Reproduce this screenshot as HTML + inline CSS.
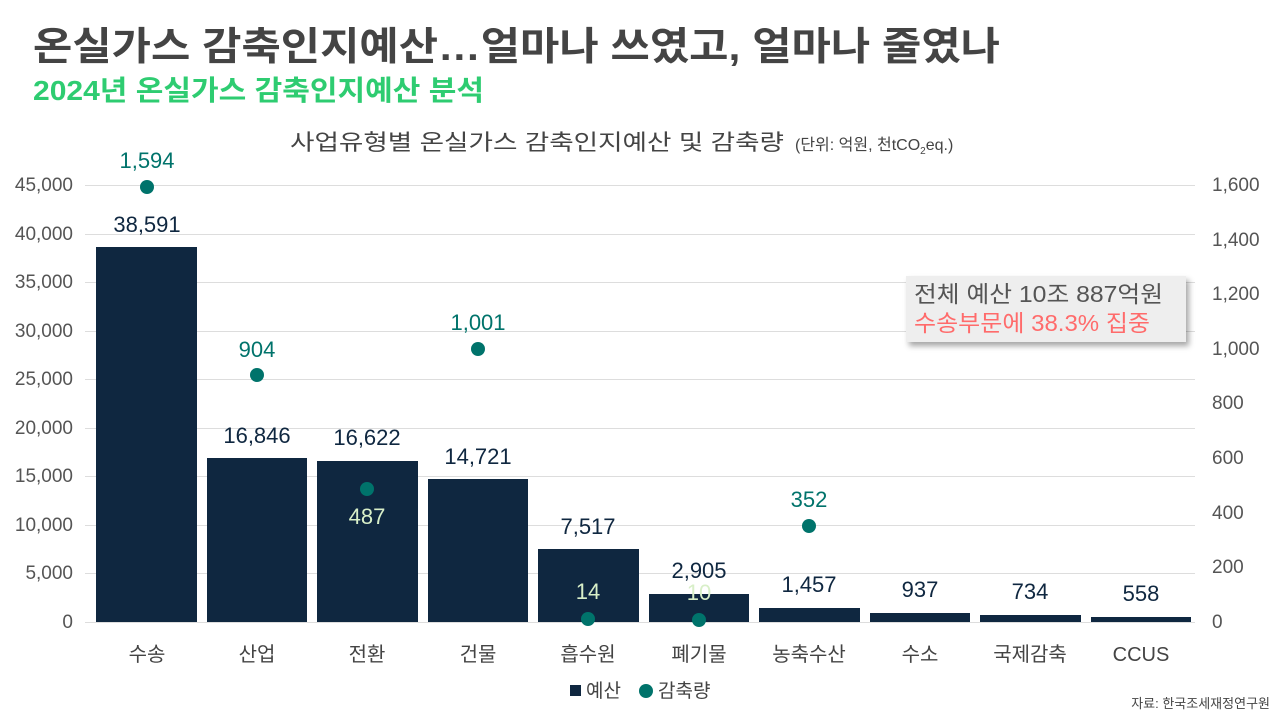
<!DOCTYPE html>
<html><head><meta charset="utf-8"><style>
body{margin:0;width:1280px;height:720px;background:#fff;overflow:hidden;font-family:"Liberation Sans","Noto Sans CJK KR",sans-serif}
</style></head><body>
<svg width="1280" height="720" xmlns="http://www.w3.org/2000/svg" font-family="Liberation Sans, Noto Sans CJK KR, sans-serif">
<defs><filter id="sh" x="-10%" y="-20%" width="130%" height="160%"><feDropShadow dx="3" dy="4" stdDeviation="3" flood-color="#000" flood-opacity="0.35"/></filter></defs>
<text x="33" y="60" font-size="39" font-weight="bold" fill="#444" textLength="967" lengthAdjust="spacingAndGlyphs">온실가스 감축인지예산…얼마나  쓰였고, 얼마나 줄였나</text>
<text x="33" y="100" font-size="28" font-weight="bold" fill="#2ecc71" textLength="451" lengthAdjust="spacingAndGlyphs">2024년 온실가스 감축인지예산 분석</text>
<text x="290" y="150" font-size="22" fill="#444" textLength="494" lengthAdjust="spacingAndGlyphs">사업유형별 온실가스 감축인지예산 및 감축량</text>
<text x="795" y="150" font-size="16" fill="#444">(단위: 억원, 천tCO<tspan font-size="10" dy="4">2</tspan><tspan dy="-4">eq.)</tspan></text>
<g stroke="#ddd" stroke-width="1">
<line x1="85" x2="1195" y1="185.5" y2="185.5"/><line x1="85" x2="1195" y1="234.5" y2="234.5"/><line x1="85" x2="1195" y1="282.5" y2="282.5"/><line x1="85" x2="1195" y1="331.5" y2="331.5"/><line x1="85" x2="1195" y1="379.5" y2="379.5"/><line x1="85" x2="1195" y1="428.5" y2="428.5"/><line x1="85" x2="1195" y1="476.5" y2="476.5"/><line x1="85" x2="1195" y1="525.5" y2="525.5"/><line x1="85" x2="1195" y1="573.5" y2="573.5"/><line x1="85" x2="1195" y1="622.5" y2="622.5"/>
</g>
<g font-size="19" fill="#555" text-anchor="end">
<text x="73" y="191">45,000</text><text x="73" y="240">40,000</text><text x="73" y="288">35,000</text><text x="73" y="337">30,000</text><text x="73" y="385">25,000</text><text x="73" y="434">20,000</text><text x="73" y="482">15,000</text><text x="73" y="531">10,000</text><text x="73" y="579">5,000</text><text x="73" y="628">0</text>
</g>
<g font-size="19" fill="#555" text-anchor="start">
<text x="1212" y="191">1,600</text><text x="1212" y="246">1,400</text><text x="1212" y="300">1,200</text><text x="1212" y="355">1,000</text><text x="1212" y="409">800</text><text x="1212" y="464">600</text><text x="1212" y="519">400</text><text x="1212" y="573">200</text><text x="1212" y="628">0</text>
</g>
<g fill="#0f2740">
<rect x="96" y="247" width="101" height="375"/>
<rect x="207" y="458" width="100" height="164"/>
<rect x="317" y="461" width="101" height="161"/>
<rect x="428" y="479" width="100" height="143"/>
<rect x="538" y="549" width="101" height="73"/>
<rect x="649" y="594" width="100" height="28"/>
<rect x="759" y="608" width="101" height="14"/>
<rect x="870" y="613" width="100" height="9"/>
<rect x="980" y="615" width="101" height="7"/>
<rect x="1091" y="617" width="100" height="5"/>
</g>
<g font-size="22" fill="#0f2740" text-anchor="middle">
<text x="147" y="232">38,591</text><text x="257" y="443">16,846</text><text x="367" y="445">16,622</text><text x="478" y="464">14,721</text><text x="588" y="534">7,517</text><text x="699" y="578">2,905</text><text x="809" y="592">1,457</text><text x="920" y="597">937</text><text x="1030" y="599">734</text><text x="1141" y="601">558</text>
</g>
<g fill="#00736b">
<circle cx="147" cy="187" r="7"/><circle cx="257" cy="375" r="7"/><circle cx="367" cy="489" r="7"/><circle cx="478" cy="349" r="7"/><circle cx="588" cy="619" r="7"/><circle cx="699" cy="620" r="7"/><circle cx="809" cy="526" r="7"/>
</g>
<g font-size="22" fill="#00736b" text-anchor="middle">
<text x="147" y="168">1,594</text><text x="257" y="357">904</text><text x="478" y="330">1,001</text><text x="809" y="507">352</text>
</g>
<g font-size="22" fill="#d8efc8" text-anchor="middle">
<text x="367" y="524">487</text><text x="588" y="599">14</text><text x="699" y="600">10</text>
</g>
<g font-size="20" fill="#444" text-anchor="middle">
<text x="147" y="661">수송</text><text x="257" y="661">산업</text><text x="367" y="661">전환</text><text x="478" y="661">건물</text><text x="588" y="661">흡수원</text><text x="699" y="661">폐기물</text><text x="809" y="661">농축수산</text><text x="920" y="661">수소</text><text x="1030" y="661">국제감축</text><text x="1141" y="661">CCUS</text>
</g>
<rect x="570" y="685" width="11" height="11" fill="#0f2740"/>
<text x="586" y="697" font-size="19" fill="#444">예산</text>
<circle cx="646" cy="691" r="7" fill="#00736b"/>
<text x="658" y="697" font-size="19" fill="#444">감축량</text>
<text x="1270" y="708" font-size="13" fill="#444" text-anchor="end">자료: 한국조세재정연구원</text>
<rect x="906" y="276" width="280" height="66" fill="#eeeeee" filter="url(#sh)"/>
<text x="914" y="302" font-size="23" fill="#555" textLength="249" lengthAdjust="spacingAndGlyphs">전체 예산 10조 887억원</text>
<text x="914" y="331" font-size="23" fill="#ff6b6b" textLength="236" lengthAdjust="spacingAndGlyphs">수송부문에 38.3% 집중</text>
</svg>
</body></html>
